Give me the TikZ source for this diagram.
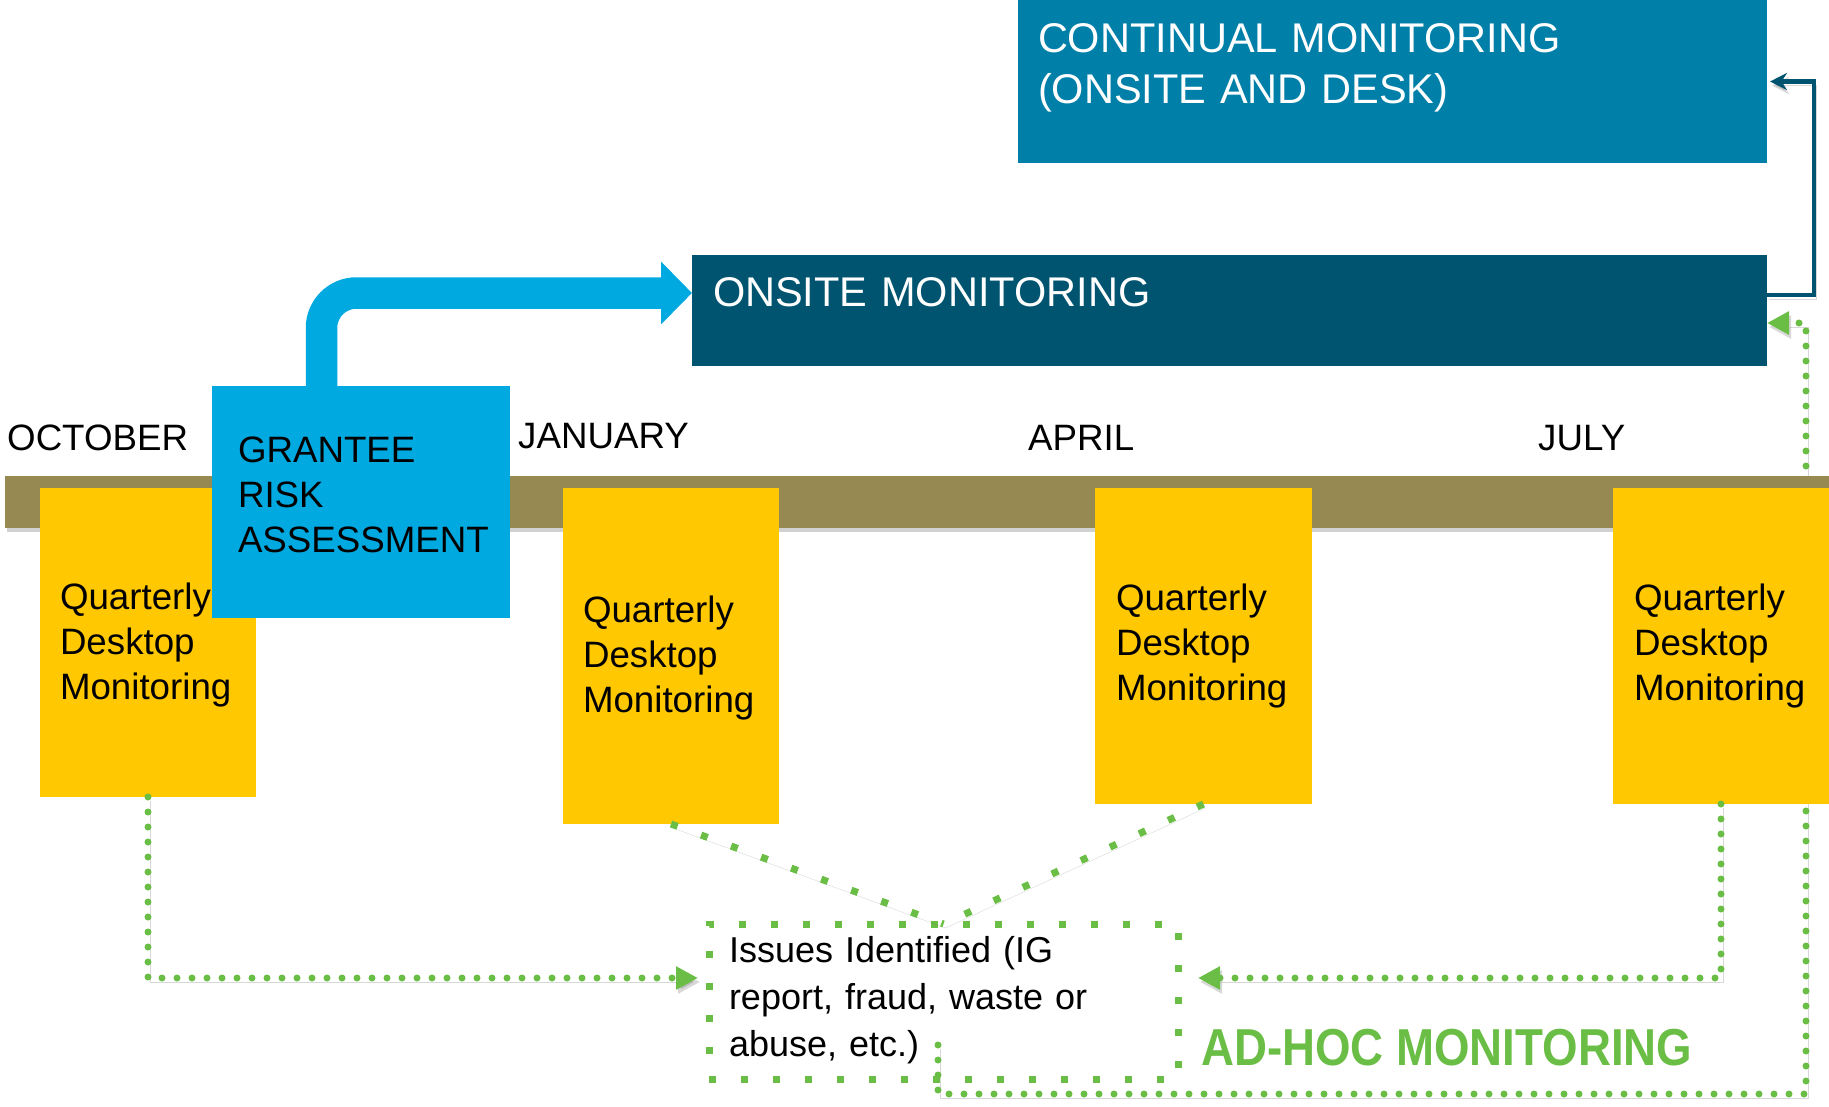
\documentclass[tikz,border=0pt]{standalone}
\usepackage{fontspec}
\setmainfont{Liberation Sans}
\usepackage{graphicx}
\usetikzlibrary{arrows.meta}
\pgfdeclarelayer{bg}
\pgfsetlayers{bg,main}
\definecolor{contblue}{RGB}{0,127,168}
\definecolor{onsiteblue}{RGB}{0,84,111}
\definecolor{riskblue}{RGB}{0,169,224}
\definecolor{barbrown}{RGB}{150,138,82}
\definecolor{qyellow}{RGB}{255,200,0}
\definecolor{adgreen}{RGB}{106,189,69}
\begin{document}
\begin{tikzpicture}[x=1pt,y=-1pt,
  panel/.style={inner sep=0pt, outer sep=0pt, anchor=north west, align=left},
  bodyfont/.style={font=\fontsize{36.7}{45}\selectfont},
  ybox/.style={panel, bodyfont, fill=qyellow, text=black},
  month/.style={anchor=base west, inner sep=0pt, bodyfont, text=black},
  shade/.style={preaction={draw=black!70, opacity=0.22, transform canvas={shift={(2pt,-4pt)}}}},
  gdots/.style={draw=adgreen, line width=7pt, line cap=round, dash pattern=on 0pt off 15pt},
  gsq/.style={draw=adgreen, line width=7pt, dash pattern=on 7pt off 25pt},
  gtip/.style={-{Triangle[length=22pt,width=22pt]}},
]
\useasboundingbox (0,0) rectangle (1829,1106);

% timeline bar
\node[inner sep=0pt, outer sep=0pt, anchor=north west, fill=barbrown,
      minimum width=1824pt, minimum height=52pt,
      preaction={fill=black, opacity=0.18, transform canvas={shift={(2pt,-4pt)}}}]
      (bar) at (5,476) {};

% boxes
\node[panel, fill=contblue, text=white, font=\fontsize{41.5}{51}\selectfont,
      text width=749pt, text height=52pt, text depth=111pt] (continual) at (1018,0)
      {\leftskip=20pt CONTINUAL MONITORING\\(ONSITE AND DESK)\par};
\node[panel, fill=onsiteblue, text=white, font=\fontsize{41.5}{51}\selectfont,
      text width=1075pt, text height=51pt, text depth=60pt] (onsite) at (692,255)
      {\leftskip=21pt ONSITE MONITORING\par};

\node[ybox, text width=216pt, text height=121pt, text depth=188pt] (q1) at (40,488)
      {\leftskip=20pt Quarterly\\Desktop\\Monitoring\par};
\node[ybox, text width=216pt, text height=134pt, text depth=202pt] (q2) at (563,488)
      {\leftskip=20pt Quarterly\\Desktop\\Monitoring\par};
\node[ybox, text width=217pt, text height=122pt, text depth=194pt] (q3) at (1095,488)
      {\leftskip=21pt Quarterly\\Desktop\\Monitoring\par};
\node[ybox, text width=216pt, text height=122pt, text depth=194pt] (q4) at (1613,488)
      {\leftskip=21pt Quarterly\\Desktop\\Monitoring\par};

\node[panel, bodyfont, fill=riskblue, text=black, text width=298pt, text height=76pt,
      text depth=156pt] (grantee) at (212,386)
      {\leftskip=26pt GRANTEE\\RISK\\ASSESSMENT\par};

% issues box
\node[panel, gsq, font=\fontsize{36}{47}\selectfont, text=black, text width=469pt,
      text height=38pt, text depth=117pt] (issues) at (709,924)
      {\leftskip=20pt Issues Identified (IG\\report, fraud, waste or\\abuse, etc.)\par};

% month labels
\node[month] (oct) at (7,450) {OCTOBER};
\node[month] (jan) at (518,448) {JANUARY};
\node[month] (apr) at (1028,450) {APRIL};
\node[month] (jul) at (1538,450) {JULY};

% ad-hoc label
\node[anchor=base west, inner sep=0pt, text=adgreen,
      font=\fontsize{52}{52}\selectfont\bfseries] (adhoc) at (1201,1065)
      {\scalebox{0.878}[1]{AD-HOC MONITORING}};

% blue bent arrow
\draw[draw=riskblue, line width=31.5pt, rounded corners=35pt,
      -{Triangle[length=31pt,width=61pt]}]
  ([xshift=-39.5pt]grantee.north) |- ([yshift=17.5pt]onsite.west);

% dark connector onsite -> continual
\draw[shade, draw=onsiteblue, line width=4.5pt, -{Stealth[length=17pt,width=17pt]},
      shorten >=3pt]
  ([yshift=15.5pt]onsite.east) -- ++(47,0) |- (continual.east);

% green connectors
\draw[shade, gdots, gtip] (q1.south) |- ([xshift=-11pt,yshift=23.5pt]issues.west);
\draw[shade, gdots, gtip] (q4.south) |- ([xshift=20pt,yshift=23.5pt]issues.east);
\draw[shade, gsq] (q2.south) -- (issues.north);
\draw[shade, gsq] (q3.south) -- (issues.north);

\begin{pgfonlayer}{bg}
  \coordinate (loopcorner) at (1806,1094);
  \draw[shade, gdots, gtip] ([xshift=-5.5pt,yshift=34pt]issues.south) |- (loopcorner)
       |- ([yshift=-12.5pt]onsite.east);
\end{pgfonlayer}
\end{tikzpicture}
\end{document}
